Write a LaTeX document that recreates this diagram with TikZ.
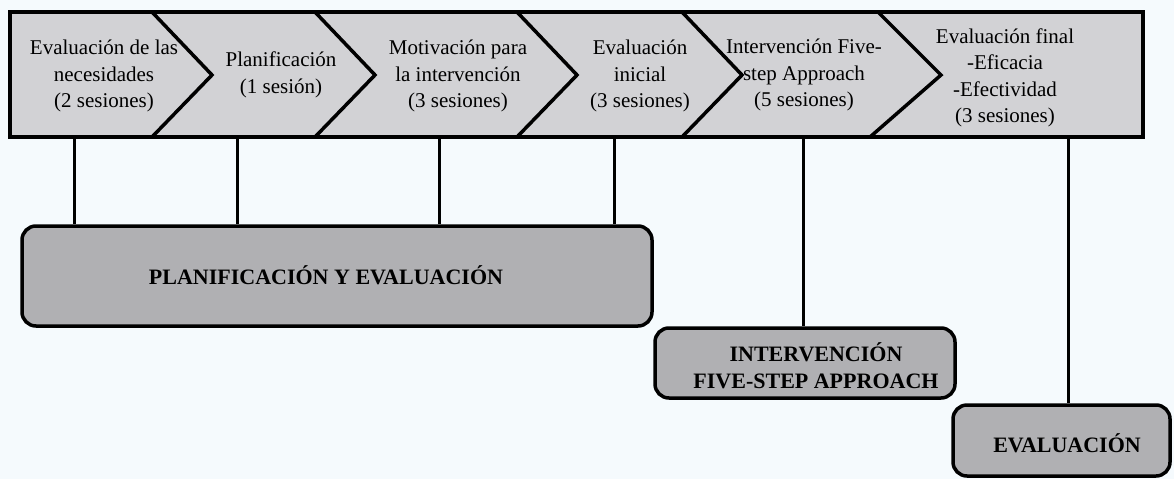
\documentclass[tikz,border=0pt]{standalone}
\usepackage{fontspec}
\setmainfont{Liberation Serif}
\definecolor{bg}{RGB}{245,250,253}
\definecolor{bannerfill}{RGB}{210,210,213}
\definecolor{boxfill}{RGB}{176,176,179}
\begin{document}
\begin{tikzpicture}[x=1pt,y=-1pt,
  seg/.style={align=center,font=\fontsize{21}{26.5}\selectfont,inner sep=0pt},
  box/.style={draw=black,line width=3.5pt,fill=boxfill,rounded corners=14pt,align=center,
    font=\fontsize{22}{27}\selectfont\bfseries,inner sep=0pt},
  boxtext/.style={align=center,font=\fontsize{22}{27}\selectfont\bfseries,inner sep=0pt},
  link/.style={line width=3pt},
  chev/.style={line width=3.5pt,line join=miter}]
\fill[bg] (0,0) rectangle (1174,479);
\useasboundingbox (0,0) rectangle (1174,479);
% banner
\draw[line width=4pt,fill=bannerfill] (10,12) rectangle (1143,137);
\draw[chev] (152,12) -- (212,75) -- (152,137);
\draw[chev] (315,12) -- (375,75) -- (315,137);
\draw[chev] (517,12) -- (577,75) -- (517,137);
\draw[chev] (682,12) -- (742,75) -- (682,137);
\draw[chev] (878,12) -- (941,75) -- (870,137);
% banner texts
\node[seg] (s1) at (104,76) {Evaluación de las\\necesidades\\(2 sesiones)};
\node[seg] (s2) at (281,75) {Planificación\\(1 sesión)};
\node[seg] (s3) at (458,76) {Motivación para\\la intervención\\(3 sesiones)};
\node[seg] (s4) at (640,76) {Evaluación\\inicial\\(3 sesiones)};
\node[seg] (s5) at (804,75) {Intervención Five-\\step Approach\\(5 sesiones)};
\node[seg] (s6) at (1005,78) {Evaluación final\\-Eficacia\\-Efectividad\\(3 sesiones)};
% attachment points
\coordinate (b1) at (74,137);
\coordinate (b2) at (237,137);
\coordinate (b3) at (439,137);
\coordinate (b4) at (614,137);
\coordinate (b5) at (803,137);
\coordinate (b6) at (1068,137);
% group boxes
\node[box,minimum width=630pt,minimum height=100pt] (plan) at (337,276) {};
\node[boxtext] (plantext) at (326,275) {PLANIFICACIÓN Y EVALUACIÓN};
\node[box,minimum width=300pt,minimum height=70pt] (interv) at (805,363) {};
\node[boxtext] (intervtext) at (816,366) {INTERVENCIÓN\\FIVE-STEP APPROACH};
\node[box,minimum width=217pt,minimum height=71pt] (eval) at (1061.5,440.5) {};
\node[boxtext] (evaltext) at (1067,443) {EVALUACIÓN};
% connectors
\draw[link] (b1) -- (b1 |- plan.north);
\draw[link] (b2) -- (b2 |- plan.north);
\draw[link] (b3) -- (b3 |- plan.north);
\draw[link] (b4) -- (b4 |- plan.north);
\draw[link] (b5) -- (b5 |- interv.north);
\draw[link] (b6) -- (b6 |- eval.north);
\end{tikzpicture}
\end{document}
